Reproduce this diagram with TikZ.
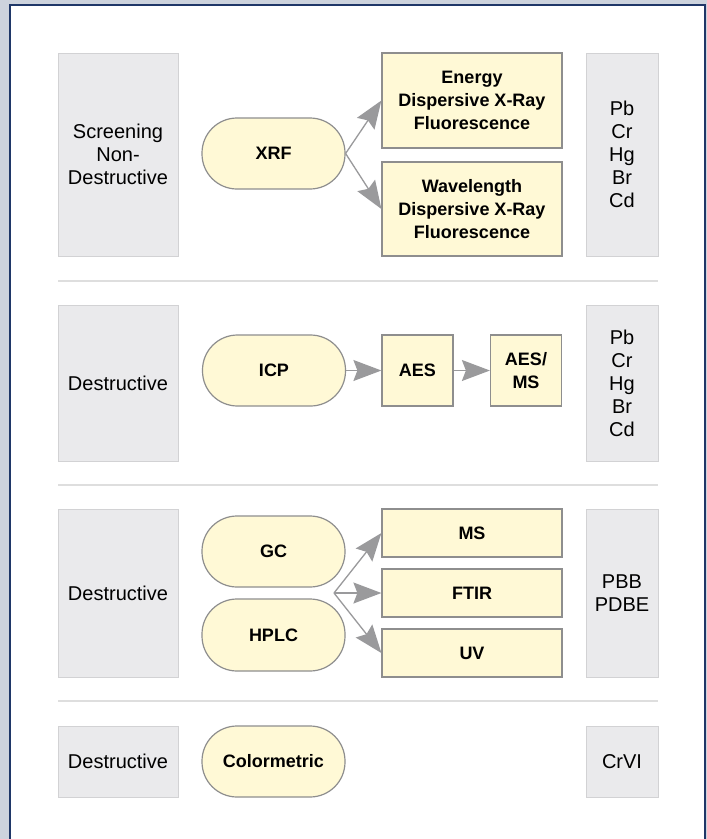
\documentclass[tikz,border=0pt]{standalone}
\usepackage{fontspec}
\setmainfont{Liberation Sans}
\usetikzlibrary{arrows.meta}
\definecolor{pagebg}{HTML}{CDD3DD}
\definecolor{framec}{HTML}{1F3768}
\definecolor{greyfill}{HTML}{EAEAEC}
\definecolor{greyline}{HTML}{D2D2D4}
\definecolor{creamfill}{HTML}{FFF9D6}
\definecolor{boxline}{HTML}{8E8E8E}
\definecolor{arrowc}{HTML}{9A9A9C}
\definecolor{sepline}{HTML}{DEDEDE}

\begin{document}
\begin{tikzpicture}[x=1pt,y=-1pt,
  every node/.style={font=\fontsize{20}{23}\selectfont,align=center,inner sep=0pt},
  catbox/.style={draw=greyline,fill=greyfill,line width=1pt,minimum width=120pt},
  elbox/.style={draw=greyline,fill=greyfill,line width=1pt,minimum width=72pt},
  pill/.style={draw=boxline,fill=creamfill,line width=1.2pt,rounded corners=35pt,
    minimum width=143pt,minimum height=71pt,font=\fontsize{18}{23}\selectfont\bfseries},
  tech/.style={draw=boxline,fill=creamfill,line width=1.2pt,
    font=\fontsize{18}{23}\selectfont\bfseries},
  flow/.style={draw=arrowc,fill=arrowc,line width=1.3pt,
    arrows={-Stealth[length=28pt,width=21pt,inset=4pt]}},
  sep/.style={draw=sepline,line width=2pt}]
\useasboundingbox[fill=pagebg] (0,0) rectangle (707,839);
\fill[white] (10,5) rectangle (705,839);
\draw[framec,line width=2pt] (10,839) -- (10,5) -- (705,5) -- (705,839);

% XRF
\node[catbox,minimum height=203pt] (scr) at (118,154.5) {Screening\\Non-\\Destructive};
\node[pill] (xrf) at (273.5,153.5) {XRF};
\node[tech,minimum width=180pt,minimum height=95pt] (edx) at (472,100.5) {Energy\\Dispersive X-Ray\\Fluorescence};
\node[tech,minimum width=180pt,minimum height=94pt] (wdx) at (472,209) {Wavelength\\Dispersive X-Ray\\Fluorescence};
\node[elbox,minimum height=203pt] (elA) at (622,154.5) {Pb\\Cr\\Hg\\Br\\Cd};
\draw[flow] (xrf.east) -- (edx.west);
\draw[flow] (xrf.east) -- (wdx.west);
\draw[sep] (58,281) -- (658,281);

% ICP
\node[catbox,minimum height=156pt] (dstB) at (118,383) {Destructive};
\node[pill] (icp) at (274,370.5) {ICP};
\node[tech,minimum width=71pt,minimum height=71pt] (aes) at (417.5,370.5) {AES};
\node[tech,minimum width=71pt,minimum height=71pt] (aesms) at (526,370.5) {AES/\\MS};
\node[elbox,minimum height=156pt] (elB) at (622,383) {Pb\\Cr\\Hg\\Br\\Cd};
\draw[flow] (icp) -- (aes);
\draw[flow] (aes) -- (aesms);
\draw[sep] (58,485) -- (658,485);

% GC / HPLC
\node[catbox,minimum height=168pt] (dstC) at (118,593) {Destructive};
\node[pill] (gc) at (273.5,551.5) {GC};
\node[pill,minimum height=72pt] (hplc) at (273.5,635) {HPLC};
\coordinate (jn) at (334,593);
\node[tech,minimum width=180pt,minimum height=48pt] (ms) at (472,533) {MS};
\node[tech,minimum width=180pt,minimum height=48pt] (ftir) at (472,593) {FTIR};
\node[tech,minimum width=180pt,minimum height=48pt] (uv) at (472,653) {UV};
\node[elbox,minimum height=168pt] (elC) at (622,593) {PBB\\PDBE};
\draw[flow] (jn) -- (ms.west);
\draw[flow] (jn) -- (ftir.west);
\draw[flow] (jn) -- (uv.west);
\draw[sep] (58,701) -- (658,701);

% Colormetric
\node[catbox,minimum height=71pt] (dstD) at (118,761.5) {Destructive};
\node[pill] (col) at (273.5,761.5) {Colormetric};
\node[elbox,minimum height=71pt] (elD) at (622,761.5) {CrVI};
\end{tikzpicture}
\end{document}
